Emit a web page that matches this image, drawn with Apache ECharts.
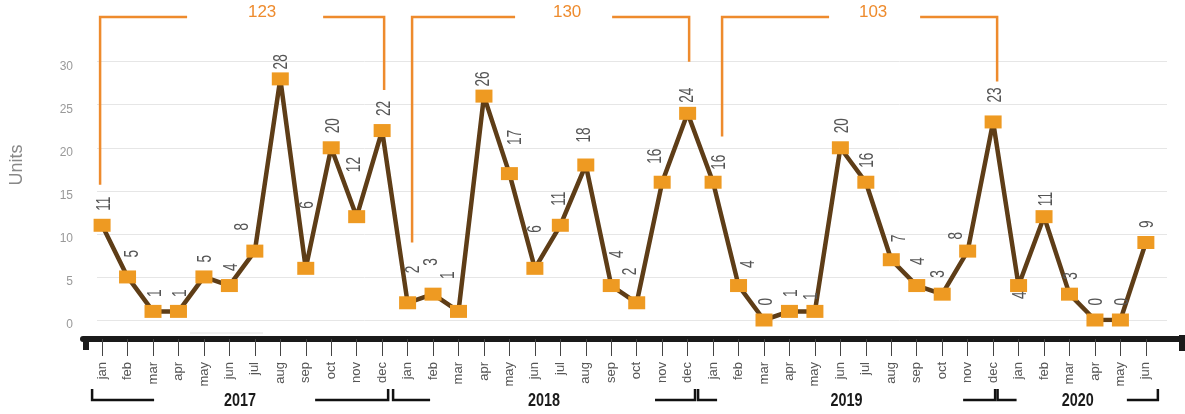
<!DOCTYPE html>
<html lang="en">
<head>
<meta charset="UTF-8">
<title>Units per month</title>
<script src="https://cdn.jsdelivr.net/npm/echarts@6/dist/echarts.min.js"></script>
<style>html,body{margin:0;padding:0;background:#fff;}</style>
</head>
<body>
<div id="main" style="width:1185px;height:414px;"></div>
<script type="text/javascript">

var months = [
  'jan','feb','mar','apr','may','jun','jul','aug','sep','oct','nov','dec',
  'jan','feb','mar','apr','may','jun','jul','aug','sep','oct','nov','dec',
  'jan','feb','mar','apr','may','jun','jul','aug','sep','oct','nov','dec',
  'jan','feb','mar','apr','may','jun'
];
var years = ['2017', '2018', '2019', '2020'];
var yearStart = [0, 12, 24, 36];
var yearEnd = [11, 23, 35, 41];

// numbers printed next to the squares
var units = [
  11, 5, 1, 1, 5, 4, 8, 28, 6, 20, 12, 22,
  2, 3, 1, 26, 17, 6, 11, 18, 4, 2, 16, 24,
  16, 4, 0, 1, 1, 20, 16, 7, 4, 3, 8, 23,
  4, 11, 3, 0, 0, 9
];
// where the squares are drawn (feb 2020 sits at 12 in the original)
var plotted = [
  11, 5, 1, 1, 5, 4, 8, 28, 6, 20, 12, 22,
  2, 3, 1, 26, 17, 6, 11, 18, 4, 2, 16, 24,
  16, 4, 0, 1, 1, 20, 16, 7, 4, 3, 8, 23,
  4, 12, 3, 0, 0, 9
];
var yTicks = [0, 5, 10, 15, 20, 25, 30];

// ---- layout tweaks (pixels), kept apart from the data ----
// label shifts [right, down] from the default spot above each square
var labelNudge = {
  1: [3, -5], 6: [-14, -6], 7: [-1, 5], 8: [0, -45], 10: [-4, -30],
  12: [4, -15], 13: [-4, -14], 14: [-12, -18], 15: [-2, 5], 16: [4, -14],
  17: [-1, -21], 18: [-3, -5], 19: [-3, -8], 20: [4, -13], 21: [-8, -13],
  22: [-9, -4], 23: [-2, 4], 24: [4, 2], 25: [8, -3], 28: [-5, 3],
  31: [6, -3], 32: [0, -6], 33: [-6, -2], 34: [-13, 3], 35: [0, -5],
  37: [0, 4]
};
var labelBelow = { 36: true };
var totalLayout = [
  { lx: -2, rx: 2, lEnd: 15.7, rEnd: 26.7, lLen: 87, rLen: 61, tx: 7 },
  { lx: 4.5, rx: 1.5, lEnd: 9.0, rEnd: 30, lLen: 103, rLen: 77, tx: 3.5 },
  { lx: 9, rx: 4, lEnd: 21.3, rEnd: 27.7, lLen: 107, rLen: 77, tx: -1.5 }
];
var yearLayout = [
  { lx: -10, rx: 6, lLen: 62, rLen: 73 },
  { lx: -14.5, rx: 7.4, lLen: 37, rLen: 40 },
  { lx: -15, rx: 2, lLen: 19, rLen: 32 },
  { lx: -21, rx: 12, lLen: 19, rLen: 31 }
];

var chartDom = document.getElementById('main');
var myChart = echarts.init(chartDom);

var monthIdx = months.map(function (m, i) { return i; });
var pointData = plotted.map(function (v, i) { return [i, v]; });

function yearTotal(k) {
  var s = 0;
  for (var i = yearStart[k]; i <= yearEnd[k]; i++) s += units[i];
  return s;
}

// rotated, narrow value labels
function renderLabels(params, api) {
  var i = params.dataIndex;
  var p = api.coord([api.value(0), api.value(1)]);
  var n = labelNudge[i] || [0, 0];
  var below = !!labelBelow[i];
  return {
    type: 'text',
    x: p[0] + 2 + n[0],
    y: below ? p[1] + 6 : p[1] - 14.5 + n[1],
    rotation: Math.PI / 2,
    scaleX: 0.68,
    style: {
      text: String(units[i]), fill: '#555', fontSize: 20,
      fontFamily: 'Liberation Sans',
      align: below ? 'right' : 'left', verticalAlign: 'middle'
    }
  };
}

function renderTotals(params, api) {
  var k = api.value(0);
  var lay = totalLayout[k];
  var s = yearStart[k], e = yearEnd[k];
  var top = api.coord([0, 35.2])[1];
  var xl = api.coord([s, 0])[0] + lay.lx;
  var xr = api.coord([e, 0])[0] + lay.rx;
  var yl = api.coord([s, lay.lEnd])[1];
  var yr = api.coord([e, lay.rEnd])[1];
  var gl = xl + lay.lLen, gr = xr - lay.rLen;
  function st() { return { stroke: '#EE8B2D', lineWidth: 2.5, fill: null }; }
  return {
    type: 'group',
    children: [
      { type: 'polyline', shape: { points: [[xl, yl], [xl, top], [gl, top]] }, style: st() },
      { type: 'polyline', shape: { points: [[gr, top], [xr, top], [xr, yr]] }, style: st() },
      {
        type: 'text', x: (gl + gr) / 2 + lay.tx, y: api.coord([0, 35.7])[1],
        style: {
          text: String(yearTotal(k)), fill: '#EE8B2D', fontSize: 17,
          fontFamily: 'Liberation Sans', align: 'center', verticalAlign: 'middle'
        }
      }
    ]
  };
}

function renderYears(params, api) {
  var k = api.value(0);
  var lay = yearLayout[k];
  var base = api.coord([0, 0])[1];
  var xl = api.coord([yearStart[k], 0])[0] + lay.lx;
  var xr = api.coord([yearEnd[k], 0])[0] + lay.rx;
  var y0 = base + 50, y1 = base + 61;
  function st() { return { stroke: '#111', lineWidth: 2.5, fill: null }; }
  return {
    type: 'group',
    children: [
      { type: 'polyline', shape: { points: [[xl, y0], [xl, y1], [xl + lay.lLen, y1]] }, style: st() },
      { type: 'polyline', shape: { points: [[xr - lay.rLen, y1], [xr, y1], [xr, y0]] }, style: st() },
      {
        type: 'text', x: (xl + xr) / 2, y: base + 62, scaleX: 0.8,
        style: {
          text: years[k], fill: '#1a1a1a', fontSize: 18, fontWeight: 'bold',
          fontFamily: 'Liberation Sans', align: 'center', verticalAlign: 'middle'
        }
      }
    ]
  };
}

var option = {
  animation: false,
  backgroundColor: '#fff',
  grid: [
    { left: 97, right: 18, top: 10, bottom: 94 },
    { left: 83, right: 0, top: 300, bottom: 75 }
  ],
  xAxis: [
    { gridIndex: 0, type: 'value', min: -0.2, max: 41.83, show: false },
    {
      gridIndex: 1, type: 'value', min: -0.75, max: 42.537, position: 'bottom',
      axisLine: { show: true, onZero: false, lineStyle: { color: '#1a1a1a', width: 6 } },
      axisTick: { show: true, customValues: monthIdx, length: 17, lineStyle: { color: '#444', width: 1 } },
      axisLabel: {
        customValues: monthIdx, rotate: 90, margin: 23, color: '#555', fontSize: 13,
        fontFamily: 'Liberation Sans',
        formatter: function (v) { return months[Math.round(v)]; }
      },
      splitLine: { show: false }
    }
  ],
  yAxis: [
    {
      gridIndex: 0, type: 'value', min: 0, max: 36,
      name: 'Units', nameLocation: 'middle', nameGap: 71,
      nameTextStyle: { color: '#888', fontSize: 18, fontFamily: 'Liberation Sans' },
      axisLine: { show: false },
      axisTick: { show: false, customValues: yTicks },
      axisLabel: {
        customValues: yTicks, color: '#999', fontSize: 12, margin: 24,
        fontFamily: 'Liberation Sans', verticalAlign: 'top', lineHeight: 10
      },
      splitLine: { show: true, customValues: yTicks, lineStyle: { color: '#e6e6e6', width: 1 } }
    },
    { gridIndex: 1, type: 'value', min: 0, max: 1, show: false }
  ],
  graphic: [
    { type: 'rect', left: 83, top: 336, shape: { width: 6, height: 14 }, style: { fill: '#1a1a1a' } },
    { type: 'rect', right: 0, top: 335, shape: { width: 6, height: 16 }, style: { fill: '#1a1a1a' } },
    { type: 'line', shape: { x1: 190, y1: 333, x2: 263, y2: 333 }, style: { stroke: '#e2e2e2', lineWidth: 1 } }
  ],
  series: [
    {
      type: 'line',
      xAxisIndex: 0, yAxisIndex: 0,
      data: pointData,
      symbol: 'rect',
      symbolSize: [17, 13],
      itemStyle: { color: '#EE9A22' },
      lineStyle: { color: '#5E3D17', width: 4.5 },
      z: 3
    },
    {
      type: 'custom',
      xAxisIndex: 0, yAxisIndex: 0,
      clip: false, silent: true, z: 4,
      data: pointData,
      renderItem: renderLabels
    },
    {
      type: 'custom',
      xAxisIndex: 0, yAxisIndex: 0,
      clip: false, silent: true, z: 1,
      data: [[0, 0], [1, 0], [2, 0]],
      renderItem: renderTotals
    },
    {
      type: 'custom',
      xAxisIndex: 1, yAxisIndex: 1,
      clip: false, silent: true,
      data: [[0, 0], [1, 0], [2, 0], [3, 0]],
      renderItem: renderYears
    }
  ]
};

myChart.setOption(option);

</script>
</body>
</html>
